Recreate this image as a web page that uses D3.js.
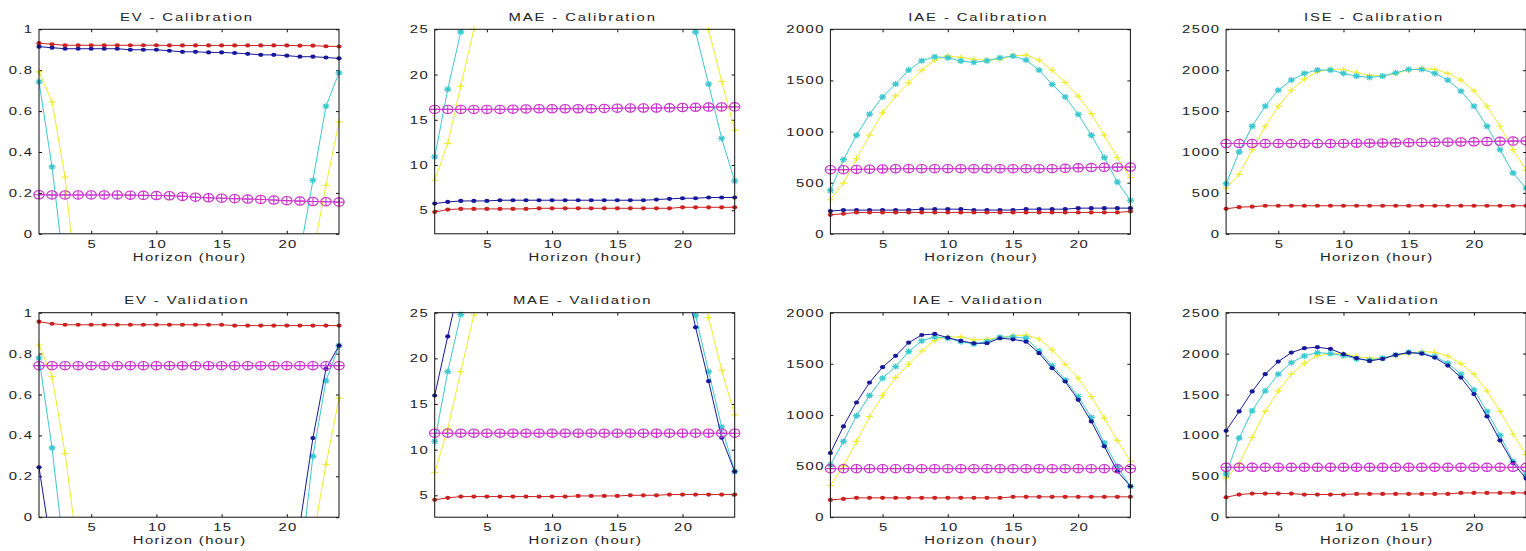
<!DOCTYPE html>
<html>
<head>
<meta charset="utf-8">
<script src="https://cdn.jsdelivr.net/npm/d3@7"></script>
<style>
  body { margin: 0; background: #fff; }
  svg { display: block; font-family: "Liberation Sans", Arial, sans-serif; }
</style>
</head>
<body>
<script>
// Horizon axis
const hours = [1,2,3,4,5,6,7,8,9,10,11,12,13,14,15,16,17,18,19,20,21,22,23,24];
const xTicks = [5, 10, 15, 20];

// y tick values per metric
const evTicks = [0, 0.2, 0.4, 0.6, 0.8, 1];
const maeTicks = [5, 10, 15, 20, 25];
const iaeTicks = [0, 500, 1000, 1500, 2000];
const iseTicks = [0, 500, 1000, 1500, 2000, 2500];

const titles = ["EV - Calibration", "MAE - Calibration", "IAE - Calibration", "ISE - Calibration",
                "EV - Validation", "MAE - Validation", "IAE - Validation", "ISE - Validation"];

// EV - Calibration
const evCalRed = [0.932,0.927,0.922,0.922,0.922,0.922,0.922,0.922,0.922,0.922,0.921,0.921,0.921,0.921,0.921,0.921,0.921,0.921,0.921,0.921,0.920,0.920,0.917,0.916];
const evCalBlue = [0.915,0.910,0.905,0.905,0.905,0.905,0.905,0.900,0.900,0.900,0.895,0.890,0.890,0.887,0.887,0.884,0.880,0.875,0.875,0.871,0.866,0.866,0.862,0.858];
const evCalCyan = [0.743,0.327,-0.21,-0.9,-1.6,-2.2,-2.8,-3.2,-3.4,-3.4,-3.3,-3.2,-3.3,-3.4,-3.4,-3.2,-2.8,-2.2,-1.6,-0.9,-0.096,0.261,0.624,0.787];
const evCalYellow = [0.792,0.645,0.277,-0.34,-1.0,-1.7,-2.3,-2.8,-3.2,-3.4,-3.4,-3.3,-3.2,-3.3,-3.4,-3.5,-3.3,-2.9,-2.3,-1.7,-0.9,-0.10,0.237,0.547];
const evCalMagenta = [0.191,0.190,0.190,0.190,0.190,0.190,0.190,0.189,0.188,0.187,0.186,0.183,0.179,0.176,0.174,0.172,0.170,0.168,0.165,0.162,0.160,0.158,0.157,0.155];

// MAE - Calibration
const maeCalRed = [4.81,5.08,5.15,5.15,5.15,5.15,5.15,5.15,5.22,5.22,5.22,5.22,5.22,5.22,5.22,5.22,5.22,5.22,5.22,5.33,5.33,5.33,5.33,5.33];
const maeCalBlue = [5.74,5.92,6.03,6.03,6.03,6.11,6.11,6.11,6.11,6.11,6.11,6.11,6.11,6.11,6.11,6.11,6.11,6.18,6.26,6.33,6.33,6.41,6.41,6.41];
const maeCalCyan = [10.9,18.36,24.7,31,37,42,46,49,50,49,48,48,48,49,50,49,46,42,37,31,24.7,18.95,12.94,8.24];
const maeCalYellow = [8.32,12.4,18.73,25.0,31,37,42,46,49,50,50,49,48,49,50,50,49,46,42,37,31,24.92,19.24,13.85];
const maeCalMagenta = [16.15,16.15,16.15,16.15,16.15,16.15,16.17,16.2,16.22,16.22,16.22,16.22,16.22,16.25,16.28,16.3,16.3,16.3,16.32,16.36,16.38,16.4,16.42,16.43];

// IAE - Calibration
const iaeCalRed = [186,196,209,209,209,209,209,209,209,209,209,209,209,209,209,209,209,209,209,209,209,209,209,219];
const iaeCalBlue = [222,232,232,232,232,232,232,241,241,241,241,232,232,232,232,241,241,241,241,251,251,251,251,251];
const iaeCalCyan = [424,725,964,1170,1339,1464,1601,1692,1731,1722,1690,1676,1692,1722,1738,1699,1601,1461,1339,1168,964,745,506,326];
const iaeCalYellow = [333,496,735,964,1183,1349,1477,1601,1699,1738,1725,1706,1699,1709,1741,1748,1699,1601,1480,1346,1176,964,745,549];
const iaeCalMagenta = [627,627,630,632,634,636,637,637,637,637,637,637,637,637,637,637,637,637,640,645,648,650,652,653];

// ISE - Calibration (no blue series visible)
const iseCalRed = [306,326,331,343,343,343,343,343,343,343,343,343,343,343,343,343,343,343,343,343,343,343,343,343];
const iseCalCyan = [613,1000,1315,1560,1756,1879,1961,2002,2002,1961,1928,1912,1928,1968,2010,2010,1961,1879,1744,1560,1315,1029,743,559];
const iseCalYellow = [559,727,1029,1315,1560,1756,1891,1981,2010,2010,1968,1936,1928,1961,2002,2022,2010,1961,1879,1748,1560,1315,1029,776];
const iseCalMagenta = [1103,1103,1103,1103,1103,1103,1103,1103,1103,1105,1107,1108,1110,1112,1114,1116,1118,1120,1122,1125,1128,1131,1133,1135];

// EV - Validation
const evValRed = [0.956,0.946,0.941,0.941,0.941,0.941,0.941,0.941,0.941,0.941,0.941,0.941,0.941,0.941,0.941,0.937,0.937,0.937,0.937,0.937,0.937,0.937,0.937,0.937];
const evValBlue = [0.244,-0.17,-0.8,-1.4,-2.0,-2.5,-2.9,-3.2,-3.3,-3.2,-3.1,-3.0,-3.0,-3.1,-3.1,-3.0,-2.6,-2.1,-1.6,-0.9,-0.038,0.387,0.725,0.839];
const evValCyan = [0.778,0.339,-0.217,-0.8,-1.4,-1.9,-2.4,-2.8,-2.9,-2.9,-2.8,-2.7,-2.8,-2.9,-2.9,-2.9,-2.5,-2.0,-1.5,-0.9,-0.26,0.298,0.667,0.839];
const evValYellow = [0.842,0.688,0.311,-0.18,-0.8,-1.4,-1.9,-2.4,-2.7,-2.9,-2.9,-2.8,-2.8,-2.9,-3.0,-3.0,-2.9,-2.5,-2.0,-1.5,-0.8,-0.11,0.257,0.582];
const evValMagenta = [0.741,0.741,0.741,0.741,0.741,0.741,0.741,0.741,0.741,0.741,0.741,0.741,0.741,0.741,0.741,0.741,0.741,0.741,0.741,0.741,0.741,0.741,0.741,0.741];

// MAE - Validation
const maeValRed = [4.5,4.72,4.86,4.86,4.86,4.86,4.86,4.86,4.86,4.86,4.86,4.93,4.93,4.93,4.93,5.0,5.0,5.0,5.08,5.08,5.08,5.08,5.08,5.08];
const maeValBlue = [15.93,22.4,28.8,35,40,44,47,50,50,49,48,48,48,49,49,48,46,42,37,30,23.4,17.5,11.3,7.6];
const maeValCyan = [10.9,18.55,24.8,31,37,42,46,49,50,50,49,48,48,49,50,49,46,42,37,31,24.7,18.55,12.5,7.6];
const maeValYellow = [7.5,12.3,18.55,24.75,31,37,42,46,49,50,50,49,48,49,50,50,49,46,42,37,31,24.45,18.7,13.8];
const maeValMagenta = [11.8,11.8,11.8,11.8,11.8,11.8,11.8,11.8,11.8,11.8,11.8,11.8,11.8,11.8,11.8,11.8,11.8,11.8,11.8,11.8,11.8,11.8,11.8,11.8];

// IAE - Validation
const iaeValRed = [169,179,189,189,189,189,189,189,189,189,189,189,189,189,199,199,199,199,199,199,199,199,199,199];
const iaeValBlue = [628,888,1122,1317,1467,1578,1707,1782,1792,1756,1724,1701,1701,1750,1740,1717,1604,1457,1327,1148,937,693,449,302];
const iaeValCyan = [514,741,992,1190,1360,1473,1620,1724,1763,1750,1717,1694,1717,1760,1763,1750,1626,1483,1343,1180,976,726,497,302];
const iaeValYellow = [312,500,741,985,1190,1366,1496,1626,1730,1763,1763,1734,1740,1756,1776,1782,1743,1636,1496,1360,1180,969,751,546];
const iaeValMagenta = [475,475,475,475,475,475,475,475,475,475,475,475,475,475,475,475,475,475,475,475,475,475,475,475];

// ISE - Validation
const iseValRed = [244,277,289,289,289,289,277,277,277,277,285,285,285,285,285,285,285,285,297,297,297,297,297,297];
const iseValBlue = [1057,1293,1537,1749,1902,2012,2066,2078,2057,1993,1944,1911,1935,1984,2012,2000,1951,1854,1707,1505,1232,939,663,472];
const iseValCyan = [529,968,1301,1545,1749,1890,1972,2012,2000,1976,1935,1919,1944,1984,2016,2008,1964,1882,1749,1557,1293,1000,683,521];
const iseValYellow = [480,651,976,1293,1545,1749,1882,1972,2000,2000,1964,1944,1944,1976,2000,2025,2016,1972,1878,1749,1545,1293,1017,765];
const iseValMagenta = [610,610,610,610,610,610,610,610,610,610,610,610,610,610,610,610,610,610,610,610,610,610,610,610];

// series styles (MATLAB-like colours and markers)
const styles = {
  red:     { color: "#cc2222", marker: "dot" },
  blue:    { color: "#18189a", marker: "dot" },
  cyan:    { color: "#3cc8cf", marker: "star" },
  yellow:  { color: "#eded2c", marker: "plus" },
  magenta: { color: "#cc33cc", marker: "oplus" }
};

// drawing order: yellow, cyan, blue, red, magenta
const panels = [
  { domain: [0, 1],     ticks: evTicks,  series: { yellow: evCalYellow, cyan: evCalCyan, blue: evCalBlue, red: evCalRed, magenta: evCalMagenta } },
  { domain: [2.4, 25],  ticks: maeTicks, series: { yellow: maeCalYellow, cyan: maeCalCyan, blue: maeCalBlue, red: maeCalRed, magenta: maeCalMagenta } },
  { domain: [0, 2000],  ticks: iaeTicks, series: { yellow: iaeCalYellow, cyan: iaeCalCyan, blue: iaeCalBlue, red: iaeCalRed, magenta: iaeCalMagenta } },
  { domain: [0, 2500],  ticks: iseTicks, series: { yellow: iseCalYellow, cyan: iseCalCyan, red: iseCalRed, magenta: iseCalMagenta } },
  { domain: [0, 1],     ticks: evTicks,  series: { yellow: evValYellow, cyan: evValCyan, blue: evValBlue, red: evValRed, magenta: evValMagenta } },
  { domain: [2.6, 25],  ticks: maeTicks, series: { yellow: maeValYellow, cyan: maeValCyan, blue: maeValBlue, red: maeValRed, magenta: maeValMagenta } },
  { domain: [0, 2000],  ticks: iaeTicks, series: { yellow: iaeValYellow, cyan: iaeValCyan, blue: iaeValBlue, red: iaeValRed, magenta: iaeValMagenta } },
  { domain: [0, 2500],  ticks: iseTicks, series: { yellow: iseValYellow, cyan: iseValCyan, blue: iseValBlue, red: iseValRed, magenta: iseValMagenta } }
];

const width = 1526, height = 551;
const pw = 300, ph = 204.5;       // axes box size
const sx = 1.35;                  // text in the figure is stretched horizontally
const ls = 1.0;                   // plus some extra letter spacing

const svg = d3.select("body").append("svg")
  .attr("width", width)
  .attr("height", height);

panels.forEach((p, i) => {
  const col = i % 4, row = Math.floor(i / 4);
  const left = 39 + col * 395.7;
  const top = 29.3 + row * 283.4;

  const g = svg.append("g").attr("transform", `translate(${left},${top})`);

  const x = d3.scaleLinear().domain([1, 24]).range([0, pw]);
  const y = d3.scaleLinear().domain(p.domain).range([ph, 0]);

  const clipId = "clip" + i;
  g.append("clipPath").attr("id", clipId)
    .append("rect").attr("width", pw).attr("height", ph);

  // axes, ticks pointing inward
  const bottom = g.append("g").attr("transform", `translate(0,${ph})`)
    .call(d3.axisBottom(x).tickValues(xTicks).tickSize(-3).tickSizeOuter(0).tickPadding(6));
  const leftAx = g.append("g")
    .call(d3.axisLeft(y).tickValues(p.ticks).tickFormat(d => String(d)).tickSize(-3).tickSizeOuter(0).tickPadding(7));
  g.append("g")
    .call(d3.axisTop(x).tickValues(xTicks).tickSize(-3).tickSizeOuter(0).tickFormat(""));
  g.append("g").attr("transform", `translate(${pw},0)`)
    .call(d3.axisRight(y).tickValues(p.ticks).tickSize(-3).tickSizeOuter(0).tickFormat(""));

  g.selectAll(".domain").remove();
  g.selectAll(".tick line").attr("stroke", "#111");
  g.selectAll("g").attr("font-size", null).attr("font-family", null);

  bottom.selectAll("text")
    .style("font-size", "11px")
    .style("letter-spacing", ls + "px")
    .attr("fill", "#222")
    .attr("dx", ls / 2)
    .attr("transform", `scale(${sx},1)`);
  leftAx.selectAll("text")
    .style("font-size", "11px")
    .style("letter-spacing", ls + "px")
    .attr("fill", "#222")
    .attr("x", -7 / sx + ls)
    .attr("transform", `scale(${sx},1)`);

  // series lines and markers
  const line = d3.line().x((d, k) => x(hours[k])).y(d => y(d));
  const plot = g.append("g");

  Object.entries(p.series).forEach(([key, values]) => {
    const st = styles[key];
    plot.append("path")
      .attr("clip-path", `url(#${clipId})`)
      .attr("d", line(values))
      .attr("fill", "none")
      .attr("stroke", st.color)
      .attr("stroke-width", 1);

    const pts = values.map((v, k) => ({ h: hours[k], v }))
      .filter(d => d.v >= p.domain[0] && d.v <= p.domain[1] + 1e-9);

    const m = plot.selectAll(null).data(pts).enter().append("g")
      .attr("transform", d => `translate(${x(d.h)},${y(d.v)})`);

    if (st.marker === "dot") {
      m.append("ellipse").attr("rx", 2.6).attr("ry", 2.1).attr("fill", st.color);
    } else if (st.marker === "star") {
      m.append("path").attr("d", "M-3.5,0H3.5M0,-3V3M-2.5,-2.2L2.5,2.2M-2.5,2.2L2.5,-2.2")
        .attr("stroke", st.color).attr("stroke-width", 1.3);
    } else if (st.marker === "plus") {
      m.append("path").attr("d", "M-3.5,0H3.5M0,-3V3")
        .attr("stroke", st.color).attr("stroke-width", 1.2);
    } else if (st.marker === "oplus") {
      m.append("ellipse").attr("rx", 5.2).attr("ry", 4.2)
        .attr("fill", "none").attr("stroke", st.color).attr("stroke-width", 1.1);
      m.append("path").attr("d", "M-5.2,0H5.2M0,-4.2V4.2")
        .attr("stroke", st.color).attr("stroke-width", 1.1);
    }
  });

  // axes box
  g.append("rect")
    .attr("width", pw).attr("height", ph)
    .attr("fill", "none")
    .attr("stroke", "#111")
    .attr("stroke-width", 1);

  // title
  g.append("text")
    .attr("transform", `translate(${pw / 2 - 3},-8.5) scale(${sx},1)`)
    .attr("text-anchor", "middle")
    .style("font-size", "11px")
    .style("letter-spacing", "1.4px")
    .attr("dx", 0.7)
    .attr("fill", "#222")
    .text(titles[i]);

  // x label
  g.append("text")
    .attr("transform", `translate(${pw / 2},${ph + 27}) scale(${sx},1)`)
    .attr("text-anchor", "middle")
    .style("font-size", "11px")
    .style("letter-spacing", ls + "px")
    .attr("dx", ls / 2)
    .attr("fill", "#222")
    .text("Horizon (hour)");
});
</script>
</body>
</html>
